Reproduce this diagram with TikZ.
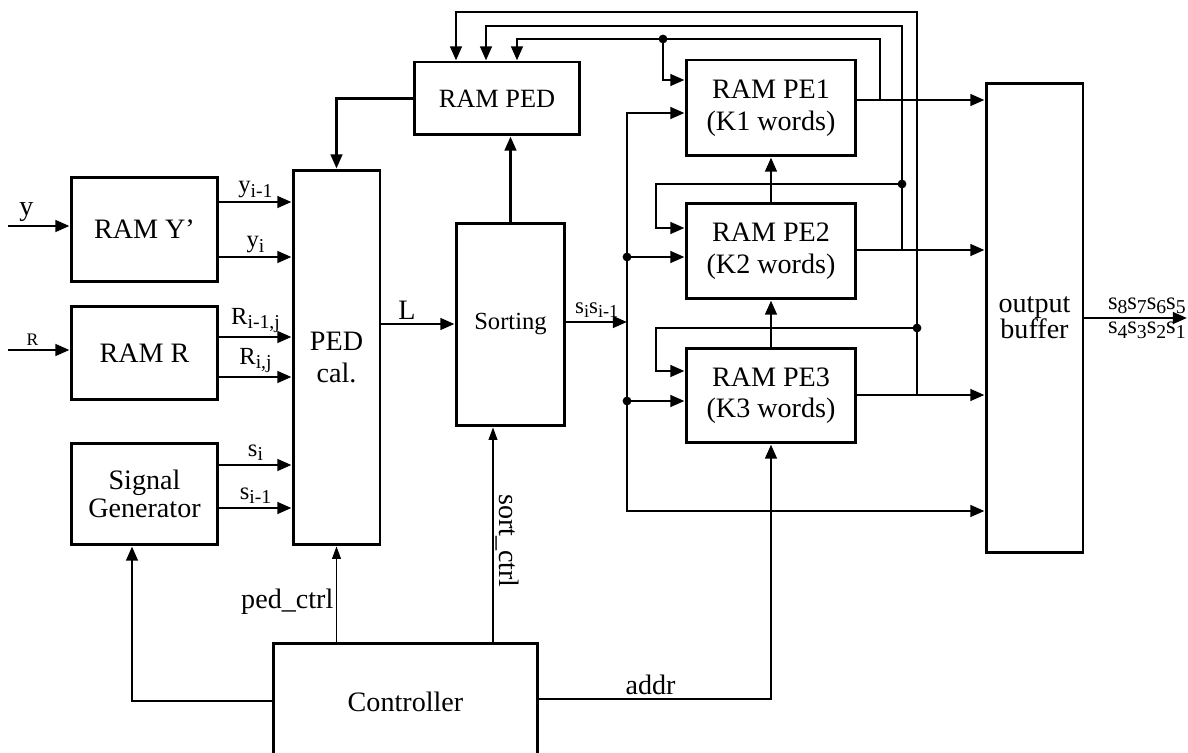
\documentclass[tikz,border=0pt]{standalone}
\usepackage{fontspec}
\setmainfont{Liberation Serif}
\usepackage{graphicx}
\usepackage{tikz}
\usetikzlibrary{arrows.meta,positioning,calc}
\newcommand{\sbs}[1]{\raisebox{-0.4ex}{\scalebox{0.8}{#1}}}
\tikzset{
  blk/.style={rectangle, draw, line width=1.7pt, align=center,
              font=\fontsize{16}{18}\selectfont, inner sep=2pt},
  fl/.style={-{Triangle[length=8pt,width=6.5pt]}, line width=1.6pt},
  bi/.style={{Triangle[length=8pt,width=6.5pt]}-{Triangle[length=8pt,width=6.5pt]}, line width=1.6pt},
  thinfl/.style={-{Triangle[length=7pt,width=5pt]}, line width=0.6pt},
  lbl/.style={font=\fontsize{14}{14}\selectfont, inner sep=1.5pt},
  big/.style={font=\fontsize{16}{16}\selectfont},
  dot/.style={circle, fill, inner sep=0pt, minimum size=5pt},
}
\begin{document}
\begin{tikzpicture}[x=0.02cm, y=-0.02cm]
\clip (0,0) rectangle (1188,753);
\node[blk, minimum width=2.94cm, minimum height=2.10cm] (ramy) at (144.5,229.5) {RAM Y’};
\node[blk, minimum width=2.94cm, minimum height=1.88cm] (ramr) at (144.5,353) {RAM R};
\node[blk, minimum width=2.94cm, minimum height=2.04cm, font=\fontsize{16}{16}\selectfont] (sig) at (144.5,494) {Signal\\Generator};
\node[blk, minimum width=1.74cm, minimum height=7.5cm] (ped) at (336.5,357.5) {PED\\cal.};
\node[blk, minimum width=3.32cm, minimum height=1.46cm, font=\fontsize{15}{15}\selectfont] (ramped) at (497,98.5) {RAM PED};
\node[blk, minimum width=2.18cm, minimum height=4.06cm, font=\fontsize{14}{14}\selectfont] (sort) at (510.5,324.5) {Sorting};
\node[blk, minimum width=3.4cm, minimum height=1.92cm] (pe1) at (771,108) {RAM PE1\\(K1 words)};
\node[blk, minimum width=3.4cm, minimum height=1.92cm] (pe2) at (771,251) {RAM PE2\\(K2 words)};
\node[blk, minimum width=3.4cm, minimum height=1.9cm] (pe3) at (771,395.5) {RAM PE3\\(K3 words)};
\node[blk, minimum width=1.94cm, minimum height=9.4cm, font=\fontsize{16}{15}\selectfont] (obuf) at (1034.5,318) {output\\buffer};
\node[blk, minimum width=5.3cm, minimum height=2.34cm] (ctrl) at (405.5,701.5) {Controller};

\coordinate (yin) at (8,226);
\coordinate (rin) at (8,350);
\coordinate (bin) at (627,322);
\coordinate (bt) at (627,113);
\coordinate (bb) at (627,511);
\coordinate (j1) at (880,100);
\coordinate (j2) at (902,250);
\coordinate (j3) at (917,395);
\coordinate (out) at (1187,318);
\node[dot] (b2) at (627,257) {};
\node[dot] (b3) at (627,401) {};
\node[dot] (f1) at (663,39) {};
\node[dot] (f2) at (902,184) {};
\node[dot] (f3) at (917,328) {};

\draw[fl] (yin) -- node[lbl, big, above, pos=0.3]{y} (ramy.west |- yin);
\draw[fl] (rin) -- node[lbl, above, pos=0.4, font=\fontsize{10}{10}\selectfont]{R} (ramr.west |- rin);
\draw[fl] (ramy.east |- 0,202) -- node[lbl, above]{y\sbs{i-1}} (ped.west |- 0,202);
\draw[fl] (ramy.east |- 0,257) -- node[lbl, above]{y\sbs{i}} (ped.west |- 0,257);
\draw[fl] (ramr.east |- 0,337) -- node[lbl, above]{R\sbs{i-1,j}} (ped.west |- 0,337);
\draw[fl] (ramr.east |- 0,377) -- node[lbl, above]{R\sbs{i,j}} (ped.west |- 0,377);
\draw[fl] (sig.east |- 0,465) -- node[lbl, above]{s\sbs{i}} (ped.west |- 0,465);
\draw[fl] (sig.east |- 0,508) -- node[lbl, above]{s\sbs{i-1}} (ped.west |- 0,508);
\draw[fl] (ped.east |- 0,324) -- node[lbl, big, above, pos=0.35]{L} (sort.west |- 0,324);
\draw[fl] (sort.east |- bin) -- node[lbl, above, font=\fontsize{13}{13}\selectfont]{s\sbs{i}s\sbs{i-1}} (bin);
\draw[fl] (sort.north) -- (ramped.south -| sort.north);
\draw[fl] (ramped.west) -| (ped.north);

\draw[bi] (pe1.west |- bt) -- (bt) -- (bb) -- (obuf.west |- bb);
\draw[fl] (b2.center) -- (pe2.west |- b2);
\draw[fl] (b3.center) -- (pe3.west |- b3);
\draw[fl] (pe1.east |- j1) -- (obuf.west |- j1);
\draw[fl] (pe2.east |- j2) -- (obuf.west |- j2);
\draw[fl] (pe3.east |- j3) -- (obuf.west |- j3);
\draw[fl] (j1) |- (f1.center) -| ([xshift=0.4cm]ramped.north);
\draw[fl] (j2) -- (j2 |- 0,26) -| ([xshift=-0.22cm]ramped.north);
\draw[fl] (j3) -- (j3 |- 0,12) -| ([xshift=-0.82cm]ramped.north);
\draw[fl] (f1.center) |- ([yshift=0.56cm]pe1.west);
\draw[fl] (f2.center) -- (f2 -| 656,0) |- ([yshift=0.46cm]pe2.west);
\draw[fl] (f3.center) -- (f3 -| 656,0) |- ([yshift=0.49cm]pe3.west);
\draw[fl] (pe2.north) -- (pe1.south);
\draw[fl] (pe3.north) -- (pe2.south);
\draw[fl] (obuf.east |- out) -- node[lbl, pos=0.19, anchor=south west]{s\sbs{8}s\sbs{7}s\sbs{6}s\sbs{5}}
  node[lbl, pos=0.19, anchor=north west]{s\sbs{4}s\sbs{3}s\sbs{2}s\sbs{1}} (out);

\draw[thinfl] (ctrl.north -| ped.south) -- node[lbl, big, left, pos=0.42]{ped\_ctrl} (ped.south);
\draw[thinfl] (ctrl.north -| 493,0) -- node[lbl, big, pos=0.47, rotate=-90, anchor=south]{sort\_ctrl} (sort.south -| 493,0);
\draw[fl] (ctrl.east |- 0,699) -| node[lbl, big, above, pos=0.24]{addr} (pe3.south);
\draw[fl] (ctrl.west |- 0,701) -| (sig.south -| 132,0);
\end{tikzpicture}
\end{document}
